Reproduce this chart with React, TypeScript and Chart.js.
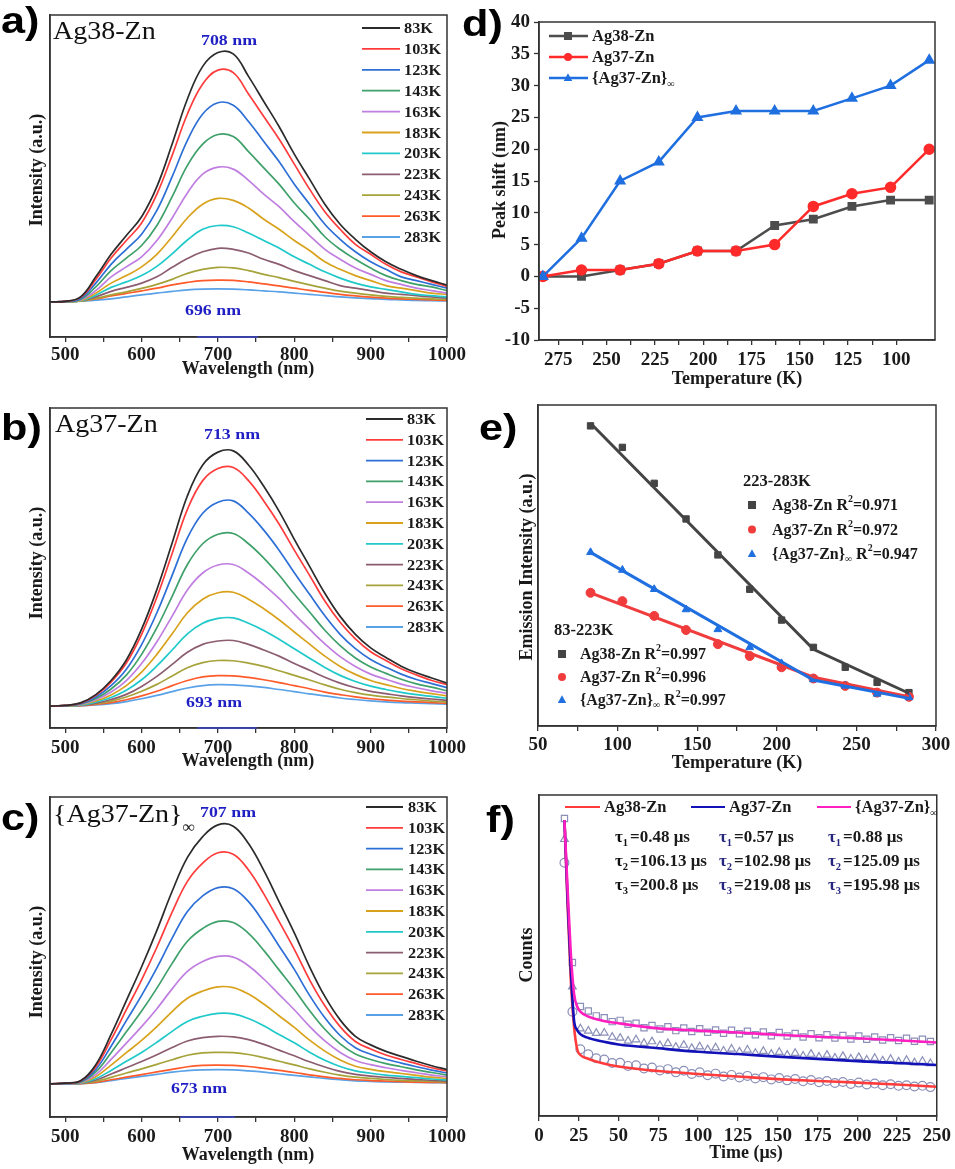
import React, { useEffect, useRef } from "react";
import { Chart, registerables } from "chart.js";
Chart.register(...registerables);

// ------------------------------------------------------------------ data
const TEMP_LABELS = ["83K", "103K", "123K", "143K", "163K", "183K", "203K", "223K", "243K", "263K", "283K"];
const TEMP_COLORS = ["#2b2b2b", "#ff3c3c", "#2d6fd6", "#3fa06a", "#c07ee0", "#d9a21c", "#1fc9c9", "#8c5d70", "#a6a33a", "#ff5a2a", "#5aa2e8"];

const WAVELENGTH_NM = [480, 500, 520, 540, 560, 580, 600, 620, 640, 660, 680, 700, 720, 740, 760, 780, 800, 820, 840, 860, 880, 900, 920, 940, 960, 980, 1000];
const WAVE_TICKS = [500, 550, 600, 650, 700, 750, 800, 850, 900, 950, 1000];
const WAVE_TICK_LABELS = [500, 600, 700, 800, 900, 1000];

// a) Ag38-Zn, rows = 83K ... 283K
const SPECTRA_AG38 = [
  [0, 0.002, 0.02, 0.1, 0.19, 0.265, 0.34, 0.46, 0.63, 0.81, 0.94, 0.995, 0.99, 0.9, 0.8, 0.7, 0.59, 0.49, 0.39, 0.31, 0.25, 0.2, 0.16, 0.13, 0.105, 0.085, 0.067],
  [0, 0.002, 0.018, 0.09, 0.175, 0.245, 0.315, 0.43, 0.585, 0.75, 0.87, 0.925, 0.915, 0.83, 0.74, 0.65, 0.55, 0.45, 0.36, 0.29, 0.23, 0.19, 0.15, 0.12, 0.1, 0.08, 0.062],
  [0, 0.002, 0.014, 0.075, 0.15, 0.21, 0.27, 0.365, 0.5, 0.645, 0.75, 0.795, 0.785, 0.72, 0.64, 0.56, 0.47, 0.39, 0.31, 0.25, 0.2, 0.16, 0.13, 0.1, 0.085, 0.07, 0.055],
  [0, 0.001, 0.01, 0.06, 0.125, 0.175, 0.225, 0.305, 0.42, 0.545, 0.63, 0.668, 0.66, 0.6, 0.535, 0.47, 0.395, 0.33, 0.26, 0.21, 0.17, 0.135, 0.105, 0.085, 0.07, 0.06, 0.045],
  [0, 0.001, 0.008, 0.045, 0.1, 0.14, 0.18, 0.245, 0.335, 0.435, 0.51, 0.538, 0.53, 0.485, 0.43, 0.38, 0.32, 0.265, 0.21, 0.17, 0.135, 0.11, 0.085, 0.07, 0.055, 0.045, 0.035],
  [0, 0.001, 0.005, 0.035, 0.075, 0.105, 0.14, 0.19, 0.26, 0.335, 0.39, 0.413, 0.405, 0.375, 0.33, 0.29, 0.245, 0.205, 0.16, 0.13, 0.105, 0.085, 0.065, 0.055, 0.045, 0.035, 0.03],
  [0, 0.001, 0.004, 0.027, 0.058, 0.08, 0.105, 0.142, 0.192, 0.247, 0.29, 0.305, 0.3, 0.275, 0.245, 0.215, 0.18, 0.15, 0.12, 0.095, 0.075, 0.06, 0.05, 0.04, 0.03, 0.025, 0.02],
  [0, 0.001, 0.004, 0.02, 0.042, 0.058, 0.075, 0.1, 0.138, 0.173, 0.2, 0.214, 0.21, 0.195, 0.17, 0.15, 0.125, 0.105, 0.085, 0.065, 0.055, 0.045, 0.035, 0.03, 0.025, 0.02, 0.015],
  [0, 0.001, 0.003, 0.014, 0.028, 0.04, 0.054, 0.07, 0.09, 0.114, 0.13, 0.138, 0.136, 0.125, 0.11, 0.097, 0.082, 0.068, 0.055, 0.043, 0.035, 0.028, 0.022, 0.018, 0.015, 0.012, 0.01],
  [0, 0.001, 0.004, 0.012, 0.024, 0.034, 0.044, 0.055, 0.068, 0.078, 0.085, 0.087, 0.086, 0.08, 0.072, 0.064, 0.055, 0.046, 0.038, 0.03, 0.024, 0.019, 0.015, 0.012, 0.01, 0.008, 0.006],
  [0, 0.001, 0.003, 0.007, 0.012, 0.02, 0.028, 0.035, 0.042, 0.048, 0.051, 0.052, 0.051, 0.048, 0.044, 0.04, 0.035, 0.03, 0.025, 0.02, 0.016, 0.013, 0.01, 0.008, 0.006, 0.005, 0.004],
];

// b) Ag37-Zn
const SPECTRA_AG37 = [
  [0, 0.003, 0.013, 0.045, 0.1, 0.18, 0.3, 0.455, 0.636, 0.82, 0.94, 0.99, 0.995, 0.94, 0.857, 0.76, 0.65, 0.545, 0.44, 0.35, 0.28, 0.227, 0.19, 0.156, 0.13, 0.11, 0.09],
  [0, 0.003, 0.012, 0.042, 0.094, 0.168, 0.28, 0.425, 0.595, 0.767, 0.879, 0.926, 0.93, 0.879, 0.8, 0.71, 0.608, 0.51, 0.41, 0.327, 0.262, 0.212, 0.178, 0.146, 0.122, 0.1, 0.084],
  [0, 0.002, 0.01, 0.036, 0.08, 0.144, 0.24, 0.364, 0.51, 0.656, 0.752, 0.795, 0.8, 0.752, 0.686, 0.608, 0.52, 0.436, 0.352, 0.28, 0.224, 0.182, 0.152, 0.125, 0.104, 0.088, 0.072],
  [0, 0.002, 0.009, 0.03, 0.067, 0.121, 0.202, 0.306, 0.428, 0.552, 0.633, 0.67, 0.673, 0.633, 0.577, 0.511, 0.437, 0.367, 0.296, 0.236, 0.188, 0.153, 0.128, 0.105, 0.087, 0.074, 0.06],
  [0, 0.002, 0.007, 0.025, 0.055, 0.1, 0.166, 0.251, 0.351, 0.453, 0.519, 0.55, 0.552, 0.519, 0.473, 0.42, 0.359, 0.3, 0.243, 0.193, 0.155, 0.125, 0.105, 0.086, 0.072, 0.06, 0.05],
  [0, 0.001, 0.006, 0.02, 0.044, 0.08, 0.133, 0.202, 0.282, 0.364, 0.417, 0.442, 0.444, 0.417, 0.38, 0.337, 0.289, 0.242, 0.195, 0.155, 0.124, 0.1, 0.084, 0.069, 0.058, 0.049, 0.04],
  [0, 0.001, 0.004, 0.016, 0.034, 0.062, 0.103, 0.157, 0.219, 0.282, 0.323, 0.342, 0.344, 0.323, 0.295, 0.261, 0.224, 0.187, 0.151, 0.12, 0.096, 0.078, 0.065, 0.054, 0.045, 0.038, 0.031],
  [0, 0.001, 0.003, 0.012, 0.026, 0.046, 0.077, 0.116, 0.163, 0.21, 0.241, 0.254, 0.256, 0.241, 0.219, 0.195, 0.166, 0.14, 0.113, 0.09, 0.072, 0.058, 0.049, 0.04, 0.033, 0.028, 0.023],
  [0, 0.001, 0.003, 0.01, 0.02, 0.036, 0.058, 0.085, 0.118, 0.15, 0.17, 0.178, 0.177, 0.168, 0.155, 0.138, 0.12, 0.102, 0.083, 0.066, 0.053, 0.043, 0.036, 0.03, 0.025, 0.02, 0.016],
  [0, 0.001, 0.002, 0.007, 0.014, 0.025, 0.04, 0.058, 0.08, 0.1, 0.114, 0.119, 0.118, 0.112, 0.103, 0.092, 0.08, 0.068, 0.055, 0.045, 0.036, 0.029, 0.024, 0.02, 0.017, 0.014, 0.011],
  [0, 0.001, 0.002, 0.005, 0.01, 0.018, 0.029, 0.042, 0.057, 0.071, 0.08, 0.084, 0.083, 0.079, 0.073, 0.065, 0.057, 0.048, 0.04, 0.032, 0.026, 0.021, 0.017, 0.014, 0.012, 0.01, 0.008],
];

// c) {Ag37-Zn}∞
const SPECTRA_AG37_INF = [
  [0, 0.003, 0.012, 0.074, 0.19, 0.32, 0.45, 0.59, 0.74, 0.87, 0.95, 0.995, 0.99, 0.923, 0.82, 0.7, 0.58, 0.45, 0.336, 0.246, 0.183, 0.15, 0.125, 0.106, 0.087, 0.07, 0.055],
  [0, 0.003, 0.011, 0.066, 0.17, 0.285, 0.4, 0.525, 0.66, 0.778, 0.848, 0.888, 0.882, 0.822, 0.73, 0.624, 0.517, 0.4, 0.3, 0.22, 0.163, 0.134, 0.111, 0.094, 0.078, 0.062, 0.05],
  [0, 0.002, 0.009, 0.056, 0.145, 0.243, 0.34, 0.446, 0.56, 0.662, 0.722, 0.754, 0.75, 0.7, 0.62, 0.53, 0.44, 0.34, 0.254, 0.186, 0.139, 0.114, 0.095, 0.08, 0.066, 0.053, 0.042],
  [0, 0.002, 0.007, 0.046, 0.12, 0.2, 0.28, 0.368, 0.463, 0.548, 0.597, 0.624, 0.62, 0.578, 0.513, 0.438, 0.363, 0.282, 0.21, 0.154, 0.115, 0.094, 0.078, 0.066, 0.054, 0.044, 0.034],
  [0, 0.001, 0.005, 0.036, 0.094, 0.157, 0.22, 0.289, 0.365, 0.432, 0.47, 0.49, 0.487, 0.454, 0.403, 0.344, 0.285, 0.221, 0.165, 0.121, 0.09, 0.074, 0.062, 0.052, 0.043, 0.034, 0.027],
  [0, 0.001, 0.004, 0.028, 0.072, 0.12, 0.167, 0.22, 0.278, 0.329, 0.357, 0.373, 0.37, 0.345, 0.307, 0.262, 0.217, 0.168, 0.126, 0.092, 0.068, 0.056, 0.047, 0.04, 0.033, 0.026, 0.021],
  [0, 0.001, 0.003, 0.02, 0.052, 0.087, 0.121, 0.16, 0.202, 0.24, 0.26, 0.271, 0.269, 0.251, 0.223, 0.19, 0.158, 0.122, 0.091, 0.067, 0.05, 0.041, 0.034, 0.029, 0.024, 0.019, 0.015],
  [0, 0.001, 0.002, 0.015, 0.038, 0.062, 0.086, 0.112, 0.14, 0.165, 0.178, 0.183, 0.181, 0.17, 0.152, 0.13, 0.108, 0.085, 0.065, 0.048, 0.037, 0.03, 0.025, 0.021, 0.017, 0.014, 0.011],
  [0, 0.001, 0.002, 0.01, 0.025, 0.042, 0.058, 0.075, 0.093, 0.11, 0.119, 0.121, 0.12, 0.113, 0.101, 0.087, 0.073, 0.058, 0.045, 0.034, 0.026, 0.021, 0.017, 0.014, 0.012, 0.01, 0.008],
  [0, 0, 0.001, 0.006, 0.016, 0.026, 0.036, 0.046, 0.056, 0.066, 0.071, 0.072, 0.071, 0.067, 0.06, 0.052, 0.044, 0.035, 0.027, 0.021, 0.016, 0.013, 0.011, 0.009, 0.007, 0.006, 0.005],
  [0, 0, 0.001, 0.005, 0.013, 0.021, 0.029, 0.037, 0.045, 0.051, 0.054, 0.055, 0.054, 0.05, 0.045, 0.039, 0.033, 0.027, 0.021, 0.016, 0.012, 0.01, 0.008, 0.007, 0.006, 0.005, 0.004],
];

// d) peak shift
const SHIFT_TEMPS = [283, 263, 243, 223, 203, 183, 163, 143, 123, 103, 83];
const SHIFT_AG38 = [0, 0, 1, 2, 4, 4, 8, 9, 11, 12, 12];
const SHIFT_AG37 = [0, 1, 1, 2, 4, 4, 5, 11, 13, 14, 20];
const SHIFT_AG37_INF = [0, 6, 15, 18, 25, 26, 26, 26, 28, 30, 34];
const SHIFT_X_TICKS = [100, 112.5, 125, 137.5, 150, 162.5, 175, 187.5, 200, 212.5, 225, 237.5, 250, 262.5, 275];
const SHIFT_X_LABELS = [100, 125, 150, 175, 200, 225, 250, 275];
const SHIFT_Y_TICKS = [-10, -5, 0, 5, 10, 15, 20, 25, 30, 35, 40];

// e) emission intensity vs temperature
const EI_TEMPS = [83, 103, 123, 143, 163, 183, 203, 223, 243, 263, 283];
const EI_AG38 = [93.5, 86.8, 75.6, 64.5, 53.3, 42.6, 33.0, 24.5, 18.3, 13.6, 10.4];
const EI_AG37 = [41.5, 38.9, 34.3, 29.9, 25.5, 21.8, 18.3, 14.8, 12.5, 10.4, 9.1];
const EI_AG37_INF = [54.1, 48.6, 42.6, 36.3, 30.1, 24.5, 19.5, 14.5, 12.5, 10.0, 8.9];
const EI_FIT_TEMPS = [83, 223, 283];
const EI_FIT_AG38 = [94.3, 23.9, 10.2];
const EI_FIT_AG37 = [41.5, 15.2, 9.1];
const EI_FIT_AG37_INF = [54.1, 14.3, 8.6];
const EI_X_TICKS = [50, 75, 100, 125, 150, 175, 200, 225, 250, 275, 300];
const EI_X_LABELS = [50, 100, 150, 200, 250, 300];

// f) decay curves
const DECAY_FIT_T = [16, 18, 20, 22, 24, 26, 30, 40, 50, 75, 100, 125, 150, 175, 200, 225, 250];
const DECAY_FIT_AG38 = [92.2, 65.2, 42.4, 28.0, 20.8, 19.0, 18.0, 16.4, 15.4, 14.0, 13.1, 12.3, 11.5, 10.9, 10.4, 9.8, 9.1];
const DECAY_FIT_AG37 = [92.2, 67.3, 45.5, 29.9, 26.8, 25.5, 24.5, 23.2, 22.3, 21.1, 20.0, 19.3, 18.5, 17.8, 17.1, 16.5, 15.9];
const DECAY_FIT_AG37_INF = [92.2, 70.4, 50.7, 38.2, 34.1, 32.5, 31.2, 29.7, 28.9, 27.3, 26.6, 26.0, 25.3, 24.7, 24.2, 23.6, 22.9];
const DECAY_T = [16, 21, 26, 31, 36, 41, 46, 51, 56, 61, 66, 71, 76, 81, 86, 91, 96, 101, 106, 111, 116, 121, 126, 131, 136, 141, 146, 151, 156, 161, 166, 171, 176, 181, 186, 191, 196, 201, 206, 211, 216, 221, 226, 231, 236, 241, 246];
const DECAY_AG38 = [78.9, 32.5, 20.8, 19.2, 18.0, 17.6, 16.5, 16.6, 15.6, 15.8, 14.8, 15.1, 14.2, 14.6, 13.6, 14.1, 13.1, 13.6, 12.7, 13.2, 12.3, 12.8, 12.0, 12.5, 11.7, 12.1, 11.4, 11.8, 11.1, 11.5, 10.8, 11.2, 10.5, 10.9, 10.3, 10.6, 10.0, 10.4, 9.8, 10.1, 9.6, 9.9, 9.4, 9.6, 9.2, 9.4, 9.0];
const DECAY_AG37 = [86.2, 40.3, 27.2, 26.5, 25.8, 25.9, 24.6, 24.3, 23.4, 23.8, 22.7, 23.2, 22.0, 22.6, 21.5, 22.1, 21.1, 21.6, 20.7, 21.3, 20.3, 20.9, 20.0, 20.6, 19.6, 20.2, 19.3, 19.9, 19.0, 19.6, 18.7, 19.3, 18.4, 19.0, 18.1, 18.6, 17.8, 18.3, 17.5, 18.0, 17.2, 17.7, 16.9, 17.4, 16.6, 17.1, 16.4];
const DECAY_AG37_INF = [92.7, 47.8, 34.1, 32.7, 31.2, 30.6, 29.4, 29.8, 28.6, 28.9, 27.5, 28.2, 27.1, 27.8, 26.6, 27.4, 26.3, 27.2, 26.1, 26.8, 25.8, 26.7, 25.6, 26.4, 25.3, 26.2, 25.0, 26.0, 24.9, 25.7, 24.6, 25.6, 24.4, 25.3, 24.3, 25.1, 24.0, 24.9, 23.9, 24.6, 23.7, 24.4, 23.5, 24.2, 23.3, 23.9, 23.2];
const DECAY_X_TICKS = [0, 25, 50, 75, 100, 125, 150, 175, 200, 225, 250];
const TAU_AG38 = ["0.48", "106.13", "200.8"];
const TAU_AG37 = ["0.57", "102.98", "219.08"];
const TAU_AG37_INF = ["0.88", "125.09", "195.98"];

// ------------------------------------------------------------------ drawing helpers
const SERIF = "'Liberation Serif', 'Times New Roman', serif";
const SANS = "'Liberation Sans', Arial, sans-serif";
const TICK_FONT = { family: SERIF, size: 19, weight: "bold" as const };
const INK = "#1a1a1a";

type Seg = [string, ("sub" | "sup")?];
type Item =
  | { k: "text"; x: number; y: number; segs: Seg[]; size: number; bold?: boolean; family?: string; color?: string; align?: "left" | "center" | "right"; baseline?: CanvasTextBaseline; rotate?: number; scaleX?: number; subDy?: number }
  | { k: "line"; x1: number; y1: number; x2: number; y2: number; color: string; width: number }
  | { k: "mark"; x: number; y: number; shape: "rect" | "circle" | "triangle"; color: string; r: number };

function drawSegs(ctx: CanvasRenderingContext2D, it: any) {
  const fam = it.family || SERIF;
  const f = (s: number) => `${it.bold ? "bold " : ""}${s}px ${fam}`;
  const ws = it.segs.map(([t, m]: Seg) => {
    ctx.font = f(m ? it.size * 0.62 : it.size);
    return ctx.measureText(t).width;
  });
  const tot = ws.reduce((a: number, b: number) => a + b, 0);
  let cx = it.align === "center" ? -tot / 2 : it.align === "right" ? -tot : 0;
  it.segs.forEach(([t, m]: Seg, i: number) => {
    ctx.font = f(m ? it.size * 0.62 : it.size);
    const dy = m === "sub" ? it.size * (it.subDy ?? 0.3) : m === "sup" ? -it.size * 0.38 : 0;
    ctx.fillText(t, cx, dy);
    cx += ws[i];
  });
}

function drawMark(ctx: CanvasRenderingContext2D, shape: string, x: number, y: number, r: number) {
  ctx.beginPath();
  if (shape === "rect") ctx.rect(x - r, y - r, 2 * r, 2 * r);
  else if (shape === "circle") ctx.arc(x, y, r, 0, Math.PI * 2);
  else {
    ctx.moveTo(x, y - r * 1.2);
    ctx.lineTo(x - r * 1.05, y + r * 0.75);
    ctx.lineTo(x + r * 1.05, y + r * 0.75);
    ctx.closePath();
  }
  ctx.fill();
}

function overlayPlugin(ox: number, oy: number, items: Item[]) {
  return {
    id: "overlay",
    afterDraw(chart: any) {
      const ctx: CanvasRenderingContext2D = chart.ctx;
      const a = chart.chartArea;
      ctx.save();
      ctx.strokeStyle = "#333";
      ctx.lineWidth = 1.5;
      ctx.strokeRect(a.left, a.top, a.right - a.left, a.bottom - a.top);
      for (const it of items) {
        if (it.k === "line") {
          ctx.strokeStyle = it.color;
          ctx.lineWidth = it.width;
          ctx.beginPath();
          ctx.moveTo(it.x1 - ox, it.y1 - oy);
          ctx.lineTo(it.x2 - ox, it.y2 - oy);
          ctx.stroke();
        } else if (it.k === "mark") {
          ctx.fillStyle = it.color;
          drawMark(ctx, it.shape, it.x - ox, it.y - oy, it.r);
        } else {
          ctx.save();
          ctx.translate(it.x - ox, it.y - oy);
          if (it.rotate) ctx.rotate(it.rotate);
          if (it.scaleX) ctx.scale(it.scaleX, 1);
          ctx.fillStyle = it.color || INK;
          ctx.textAlign = "left";
          ctx.textBaseline = it.baseline || "alphabetic";
          drawSegs(ctx, it);
          ctx.restore();
        }
      }
      ctx.restore();
    },
  };
}

type Area = { l: number; t: number; r: number; b: number };
type PanelSpec = { ox: number; oy: number; w: number; h: number; area: Area; build: (pad: any) => any; items: Item[] };

function xAxis(min: number, max: number, tickVals: number[], labelVals: number[], B: number, pad: number, reverse = false) {
  return {
    type: "linear",
    min,
    max,
    reverse,
    afterBuildTicks: (s: any) => {
      s.ticks = tickVals.map((v) => ({ value: v }));
    },
    afterFit: (s: any) => {
      s.height = B;
    },
    ticks: {
      autoSkip: false,
      maxRotation: 0,
      minRotation: 0,
      padding: pad,
      color: INK,
      font: TICK_FONT,
      callback: (v: any) => (labelVals.includes(Number(v)) ? String(v) : ""),
    },
    grid: { display: true, drawOnChartArea: false, drawTicks: true, tickLength: 5, color: "#333", tickWidth: 1.3, lineWidth: 1.3 },
    border: { display: true, color: "#333", width: 1.5 },
  };
}

function yHidden(min: number, max: number, L: number) {
  return {
    type: "linear",
    min,
    max,
    afterFit: (s: any) => {
      s.width = L;
    },
    ticks: { display: false },
    grid: { display: false },
    border: { display: true, color: "#333", width: 1.5 },
  };
}

function baseOptions(p: any, scales: any) {
  return {
    responsive: false,
    animation: false,
    events: [],
    layout: { padding: { left: 0, top: p.T, right: p.R, bottom: 0 } },
    plugins: { legend: { display: false }, tooltip: { enabled: false }, title: { display: false } },
    scales,
  };
}

function letter(txt: string, x: number, y: number): Item {
  return { k: "text", x, y, segs: [[txt]], size: 36, bold: true, family: SANS, color: "#000", scaleX: 1.2 };
}
function axisTitle(txt: Seg[], x: number, y: number, rotate = false): Item {
  return { k: "text", x, y, segs: txt, size: 18, bold: true, align: "center", baseline: "middle", rotate: rotate ? -Math.PI / 2 : 0 };
}

// ------------------------------------------------------------------ spectra panels
function spectraPanel(o: {
  ox: number; oy: number; w: number; h: number; area: Area; spectra: number[][]; ymin: number; ymax: number; tickPad: number;
  letter: string; letterY: number; title: Seg[]; titleX: number; titleY: number;
  peakHi: string; peakHiX: number; peakHiY: number; peakLo: string; peakLoX: number; peakLoY: number;
  legX1: number; legX2: number; legTX: number; legY0: number; legDy: number; yTitleY: number; xTitleY: number; blueX1: number; blueX2: number;
}): PanelSpec {
  const items: Item[] = [];
  items.push(letter(o.letter, 1, o.letterY));
  items.push({ k: "text", x: o.titleX, y: o.titleY, segs: o.title, size: 25, family: SERIF, color: "#111", scaleX: 1.12, subDy: 0.38 });
  items.push({ k: "text", x: o.peakHiX, y: o.peakHiY, segs: [[o.peakHi]], size: 15.5, bold: true, color: "#1f1fc4", align: "center", scaleX: 1.15 });
  items.push({ k: "text", x: o.peakLoX, y: o.peakLoY, segs: [[o.peakLo]], size: 15.5, bold: true, color: "#1f1fc4", align: "center", scaleX: 1.15 });
  TEMP_LABELS.forEach((lab, i) => {
    const y = o.legY0 + i * o.legDy;
    items.push({ k: "line", x1: o.legX1, y1: y, x2: o.legX2, y2: y, color: TEMP_COLORS[i], width: 1.8 });
    items.push({ k: "text", x: o.legTX, y: y + 1, segs: [[lab]], size: 15.5, bold: true, baseline: "middle", scaleX: 1.05 });
  });
  items.push({ k: "line", x1: o.blueX1, y1: o.area.b, x2: o.blueX2, y2: o.area.b, color: "#3a44c8", width: 1.5 });
  items.push(axisTitle([["Intensity (a.u.)"]], 37, o.yTitleY, true));
  items.push(axisTitle([["Wavelength (nm)"]], 248, o.xTitleY));
  return {
    ox: o.ox, oy: o.oy, w: o.w, h: o.h, area: o.area, items,
    build: (p: any) => ({
      type: "line",
      data: {
        datasets: o.spectra.map((vals, i) => ({
          data: vals.map((v, j) => ({ x: WAVELENGTH_NM[j], y: v })),
          borderColor: TEMP_COLORS[i],
          borderWidth: 1.7,
          pointRadius: 0,
          fill: false,
          tension: 0.4,
        })),
      },
      options: baseOptions(p, {
        x: xAxis(480, 1000, WAVE_TICKS, WAVE_TICK_LABELS, p.B, o.tickPad),
        y: yHidden(o.ymin, o.ymax, p.L),
      }),
    }),
  };
}

const PANEL_A = spectraPanel({
  ox: 0, oy: 0, w: 480, h: 390, area: { l: 50, t: 15, r: 447, b: 337 }, spectra: SPECTRA_AG38, ymin: -0.14, ymax: 1.145, tickPad: 2,
  letter: "a)", letterY: 33, title: [["Ag38-Zn"]], titleX: 53, titleY: 39,
  peakHi: "708 nm", peakHiX: 229, peakHiY: 45, peakLo: "696 nm", peakLoX: 213, peakLoY: 315,
  legX1: 362, legX2: 400, legTX: 404, legY0: 28, legDy: 20.9, yTitleY: 170, xTitleY: 369, blueX1: 197, blueX2: 258,
});
const PANEL_B = spectraPanel({
  ox: 0, oy: 390, w: 480, h: 390, area: { l: 50, t: 408, r: 447, b: 728 }, spectra: SPECTRA_AG37, ymin: -0.085, ymax: 1.162, tickPad: 4,
  letter: "b)", letterY: 440, title: [["Ag37-Zn"]], titleX: 55, titleY: 432,
  peakHi: "713 nm", peakHiX: 232, peakHiY: 439, peakLo: "693 nm", peakLoX: 214, peakLoY: 707,
  legX1: 366, legX2: 403, legTX: 407, legY0: 419, legDy: 20.8, yTitleY: 563, xTitleY: 761, blueX1: 197, blueX2: 257,
});
const PANEL_C = spectraPanel({
  ox: 0, oy: 780, w: 480, h: 389, area: { l: 50, t: 797, r: 447, b: 1117 }, spectra: SPECTRA_AG37_INF, ymin: -0.127, ymax: 1.102, tickPad: 4,
  letter: "c)", letterY: 830, title: [["{Ag37-Zn}"], ["∞", "sub"]], titleX: 53, titleY: 822,
  peakHi: "707 nm", peakHiX: 228, peakHiY: 817, peakLo: "673 nm", peakLoX: 199, peakLoY: 1093,
  legX1: 366, legX2: 403, legTX: 408, legY0: 807, legDy: 20.8, yTitleY: 962, xTitleY: 1155, blueX1: 180, blueX2: 235,
});

// ------------------------------------------------------------------ d) peak shift
const D_GRAY = "#4d4d4d";
const D_RED = "#ff2a2a";
const D_BLUE = "#1f6fe0";
const PANEL_D: PanelSpec = (() => {
  const items: Item[] = [letter("d)", 462, 36)];
  const leg: [Seg[], string, "rect" | "circle" | "triangle"][] = [
    [[["Ag38-Zn"]], D_GRAY, "rect"],
    [[["Ag37-Zn"]], D_RED, "circle"],
    [[["{Ag37-Zn}"], ["∞", "sub"]], D_BLUE, "triangle"],
  ];
  leg.forEach(([segs, c, shape], i) => {
    const y = 36 + i * 21;
    items.push({ k: "line", x1: 549, y1: y, x2: 588, y2: y, color: c, width: 2.5 });
    items.push({ k: "mark", x: 568, y, shape, color: c, r: 4 });
    items.push({ k: "text", x: 592, y: y + 1, segs, size: 16.5, bold: true, baseline: "middle" });
  });
  items.push(axisTitle([["Peak shift (nm)"]], 500, 180, true));
  items.push(axisTitle([["Temperature (K)"]], 737, 379));
  const ds = (vals: number[], c: string, shape: string) => ({
    data: vals.map((v, j) => ({ x: SHIFT_TEMPS[j], y: v })),
    borderColor: c,
    backgroundColor: c,
    borderWidth: 2.5,
    pointStyle: shape,
    pointRadius: 4.5,
    pointBackgroundColor: c,
    pointBorderColor: c,
    tension: 0,
  });
  return {
    ox: 455, oy: 0, w: 500, h: 390, area: { l: 539, t: 22, r: 935, b: 340 }, items,
    build: (p: any) => ({
      type: "line",
      data: { datasets: [ds(SHIFT_AG37_INF, D_BLUE, "triangle"), ds(SHIFT_AG37, D_RED, "circle"), ds(SHIFT_AG38, D_GRAY, "rect")] },
      options: baseOptions(p, {
        x: xAxis(80, 285, SHIFT_X_TICKS, SHIFT_X_LABELS, p.B, 4, true),
        y: {
          type: "linear",
          min: -10,
          max: 40,
          afterBuildTicks: (s: any) => {
            s.ticks = SHIFT_Y_TICKS.map((v) => ({ value: v }));
          },
          afterFit: (s: any) => {
            s.width = p.L;
          },
          ticks: { padding: 4, color: INK, font: TICK_FONT },
          grid: { display: true, drawOnChartArea: false, drawTicks: true, tickLength: 5, color: "#333", tickWidth: 1.3 },
          border: { display: true, color: "#333", width: 1.5 },
        },
      }),
    }),
  };
})();

// ------------------------------------------------------------------ e) emission intensity
const E_GRAY = "#444444";
const E_RED = "#f03c3c";
const E_BLUE = "#1f6fe0";
const PANEL_E: PanelSpec = (() => {
  const items: Item[] = [letter("e)", 479, 440)];
  items.push({ k: "text", x: 743, y: 482, segs: [["223-283K"]], size: 16.5, bold: true, baseline: "middle" });
  items.push({ k: "text", x: 554, y: 631, segs: [["83-223K"]], size: 16.5, bold: true, baseline: "middle" });
  const rows1: [Seg[], string, "rect" | "circle" | "triangle"][] = [
    [[["Ag38-Zn R"], ["2", "sup"], ["=0.971"]], E_GRAY, "rect"],
    [[["Ag37-Zn R"], ["2", "sup"], ["=0.972"]], E_RED, "circle"],
    [[["{Ag37-Zn}"], ["∞", "sub"], [" R"], ["2", "sup"], ["=0.947"]], E_BLUE, "triangle"],
  ];
  const rows2: [Seg[], string, "rect" | "circle" | "triangle"][] = [
    [[["Ag38-Zn R"], ["2", "sup"], ["=0.997"]], E_GRAY, "rect"],
    [[["Ag37-Zn R"], ["2", "sup"], ["=0.996"]], E_RED, "circle"],
    [[["{Ag37-Zn}"], ["∞", "sub"], [" R"], ["2", "sup"], ["=0.997"]], E_BLUE, "triangle"],
  ];
  rows1.forEach(([segs, c, shape], i) => {
    const y = 505 + i * 24.5;
    items.push({ k: "mark", x: 752, y, shape, color: c, r: 4 });
    items.push({ k: "text", x: 772, y: y + 1, segs, size: 16, bold: true, baseline: "middle" });
  });
  rows2.forEach(([segs, c, shape], i) => {
    const y = 654 + i * 23;
    items.push({ k: "mark", x: 562, y, shape, color: c, r: 4 });
    items.push({ k: "text", x: 580, y: y + 1, segs, size: 16, bold: true, baseline: "middle" });
  });
  items.push(axisTitle([["Emission Intensity (a.u.)"]], 527, 567, true));
  items.push(axisTitle([["Temperature (K)"]], 737, 763));
  const pts = (vals: number[], c: string, shape: string) => ({
    data: vals.map((v, j) => ({ x: EI_TEMPS[j], y: v })),
    showLine: false,
    pointStyle: shape,
    pointRadius: 4.5,
    pointBackgroundColor: c,
    pointBorderColor: c,
    borderColor: c,
  });
  const fit = (vals: number[], c: string) => ({
    data: vals.map((v, j) => ({ x: EI_FIT_TEMPS[j], y: v })),
    borderColor: c,
    borderWidth: 3,
    pointRadius: 0,
    tension: 0,
  });
  return {
    ox: 455, oy: 390, w: 500, h: 390, area: { l: 538, t: 405, r: 936, b: 726 }, items,
    build: (p: any) => ({
      type: "line",
      data: {
        datasets: [
          fit(EI_FIT_AG37_INF, E_BLUE), fit(EI_FIT_AG37, E_RED), fit(EI_FIT_AG38, E_GRAY),
          pts(EI_AG37_INF, E_BLUE, "triangle"), pts(EI_AG37, E_RED, "circle"), pts(EI_AG38, E_GRAY, "rect"),
        ],
      },
      options: baseOptions(p, {
        x: xAxis(50, 300, EI_X_TICKS, EI_X_LABELS, p.B, 3),
        y: yHidden(0, 100, p.L),
      }),
    }),
  };
})();

// ------------------------------------------------------------------ f) decay
const F_RED = "#ff3b3b";
const F_BLUE = "#1212b8";
const F_PINK = "#ff1fc0";
const F_MARK = "#8a8fb8";
const PANEL_F: PanelSpec = (() => {
  const items: Item[] = [letter("f)", 486, 832)];
  const leg: [Seg[], string, number, number][] = [
    [[["Ag38-Zn"]], F_RED, 565, 600],
    [[["Ag37-Zn"]], F_BLUE, 691, 725],
    [[["{Ag37-Zn}"], ["∞", "sub"]], F_PINK, 817, 851],
  ];
  leg.forEach(([segs, c, x1, x2]) => {
    items.push({ k: "line", x1, y1: 807, x2, y2: 807, color: c, width: 2.2 });
    items.push({ k: "text", x: x2 + 4, y: 808, segs, size: 16.5, bold: true, baseline: "middle" });
  });
  const cols: [string[], number, string][] = [
    [TAU_AG38, 615, "#111"],
    [TAU_AG37, 719, "#26267e"],
    [TAU_AG37_INF, 828, "#26267e"],
  ];
  const rowsY = [838, 862, 886];
  cols.forEach(([vals, x, tc]) => {
    vals.forEach((v, i) => {
      items.push({ k: "text", x, y: rowsY[i], segs: [["τ"], [String(i + 1), "sub"]], size: 17, bold: true, baseline: "middle", color: tc });
      items.push({ k: "text", x: x + 15, y: rowsY[i], segs: [[`=${v} μs`]], size: 17, bold: true, baseline: "middle" });
    });
  });
  items.push(axisTitle([["Counts"]], 527, 955, true));
  items.push(axisTitle([["Time (μs)"]], 746, 1153));
  const marks = (vals: number[], shape: string) => ({
    data: vals.map((v, j) => ({ x: DECAY_T[j], y: v })),
    showLine: false,
    pointStyle: shape,
    pointRadius: 4.4,
    pointBorderWidth: 1.2,
    pointBackgroundColor: "rgba(255,255,255,0)",
    pointBorderColor: F_MARK,
    borderColor: F_MARK,
  });
  const fit = (vals: number[], c: string) => ({
    data: vals.map((v, j) => ({ x: DECAY_FIT_T[j], y: v })),
    borderColor: c,
    borderWidth: 2.6,
    pointRadius: 0,
    cubicInterpolationMode: "monotone",
  });
  return {
    ox: 455, oy: 780, w: 500, h: 389, area: { l: 539, t: 795, r: 938, b: 1116 }, items,
    build: (p: any) => ({
      type: "line",
      data: {
        datasets: [
          fit(DECAY_FIT_AG37_INF, F_PINK), fit(DECAY_FIT_AG37, F_BLUE), fit(DECAY_FIT_AG38, F_RED),
          marks(DECAY_AG37_INF, "rect"), marks(DECAY_AG37, "triangle"), marks(DECAY_AG38, "circle"),
        ],
      },
      options: baseOptions(p, {
        x: xAxis(0, 250, DECAY_X_TICKS, DECAY_X_TICKS, p.B, 4),
        y: yHidden(0, 100, p.L),
      }),
    }),
  };
})();

const PANELS: PanelSpec[] = [PANEL_A, PANEL_B, PANEL_C, PANEL_D, PANEL_E, PANEL_F];

// ------------------------------------------------------------------ components
function Panel({ spec }: { spec: PanelSpec }) {
  const ref = useRef<HTMLCanvasElement>(null);
  useEffect(() => {
    const { ox, oy, w, h, area } = spec;
    const pad = { L: area.l - ox, T: area.t - oy, R: ox + w - area.r, B: oy + h - area.b };
    const cfg = spec.build(pad);
    cfg.plugins = [overlayPlugin(ox, oy, spec.items)];
    const chart = new Chart(ref.current as HTMLCanvasElement, cfg);
    return () => chart.destroy();
  }, [spec]);
  return (
    <canvas
      ref={ref}
      width={spec.w}
      height={spec.h}
      style={{ position: "absolute", left: spec.ox, top: spec.oy, width: spec.w, height: spec.h }}
    />
  );
}

export default function App() {
  return (
    <div style={{ position: "absolute", left: 0, top: 0, width: 955, height: 1169, background: "#fff", overflow: "hidden" }}>
      {PANELS.map((p, i) => (
        <Panel key={i} spec={p} />
      ))}
    </div>
  );
}
